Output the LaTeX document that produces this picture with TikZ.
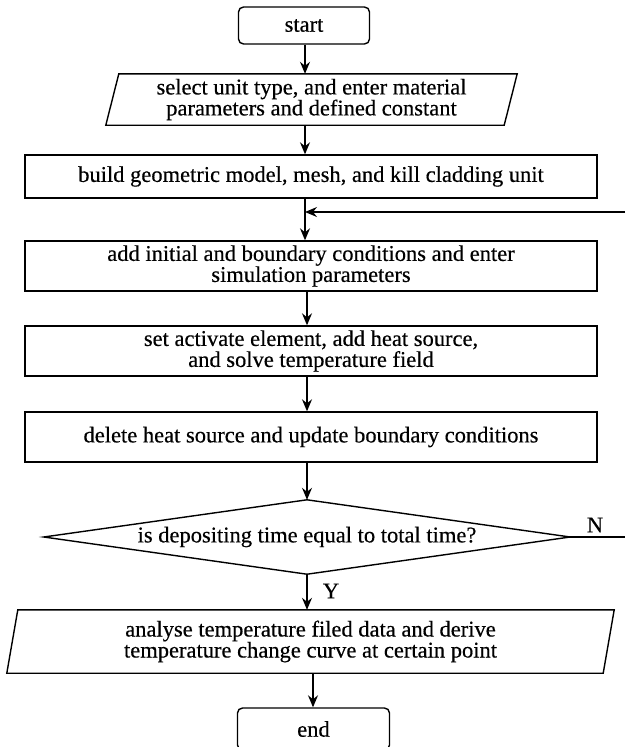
\documentclass[tikz,border=0pt]{standalone}
\usepackage{fontspec}
\setmainfont[FakeBold=0.4]{Liberation Serif}
\usetikzlibrary{arrows.meta}
\begin{document}
\begin{tikzpicture}[x=1pt,y=-1pt,
  every node/.style={font=\fontsize{22.5}{21}\selectfont, align=center, inner sep=0pt},
  conn/.style={line width=1.3pt},
  arr/.style={line width=1.3pt,-{Stealth[length=12pt,width=10pt,inset=4pt]}},
  outline/.style={line width=1.4pt, line join=miter},
  box/.style={draw, line width=1.4pt, minimum height=50pt, minimum width=572pt},
  term/.style={draw, line width=1.4pt, rounded corners=5pt}]
\useasboundingbox (0,0) rectangle (625,747);
\fill[white] (0,0) rectangle (625,747);

\node[term, minimum width=131pt, minimum height=37pt] (start) at (304,25.5) {start};
\node[minimum width=398pt, minimum height=51pt] (p1) at (311.5,99.5) {select unit type, and enter material\\parameters and defined constant};
\draw[outline] ([xshift=6.5pt]p1.north west) -- ([xshift=6.5pt]p1.north east) -- ([xshift=-6.5pt]p1.south east) -- ([xshift=-6.5pt]p1.south west) -- cycle;
\node[box, minimum height=43pt] (b1) at (311,176.5) {build geometric model, mesh, and kill cladding unit};
\node[box] (b2) at (311,266) {add initial and boundary conditions and enter\\simulation parameters};
\node[box] (b3) at (311,351) {set activate element, add heat source,\\and solve temperature field};
\node[box] (b4) at (311,437) {delete heat source and update boundary conditions};
\node[minimum width=526pt, minimum height=74pt] (dec) at (307,537) {is depositing time equal to total time?};
\draw[outline] (dec.west) -- (dec.north) -- (dec.east) -- (dec.south) -- cycle;
\node[minimum width=596pt, minimum height=63pt] (p2) at (310.5,641.5) {analyse temperature filed data and derive\\temperature change curve at certain point};
\draw[outline] ([xshift=5.5pt]p2.north west) -- ([xshift=5.5pt]p2.north east) -- ([xshift=-5.5pt]p2.south east) -- ([xshift=-5.5pt]p2.south west) -- cycle;
\node[term, minimum width=152pt, minimum height=42pt] (end) at (313.5,729) {end};

\coordinate (xa) at (305,0);
\coordinate (xb) at (307,0);
\coordinate (xd) at (313,0);
\draw[arr] (xa |- start.south) -- (xa |- p1.north);
\draw[arr] (xa |- p1.south) -- (xa |- b1.north);
\draw[arr] (xa |- b1.south) -- (xa |- b2.north);
\draw[arr] (xb |- b2.south) -- (xb |- b3.north);
\draw[arr] (xb |- b3.south) -- (xb |- b4.north);
\draw[arr] (dec.north |- b4.south) -- (dec.north);
\draw[arr] (dec.south) -- (dec.south |- p2.north);
\draw[arr] (xd |- p2.south) -- (xd |- end.north);

\coordinate (fb) at (625,212);
\coordinate (jn) at (305,212);
\draw[arr] (fb) -- (jn);
\coordinate (nr) at (625,537);
\draw[conn] (dec.east) -- (nr);
\node (N) at (595,525) {N};
\node (Y) at (331,591) {Y};
\end{tikzpicture}
\end{document}
